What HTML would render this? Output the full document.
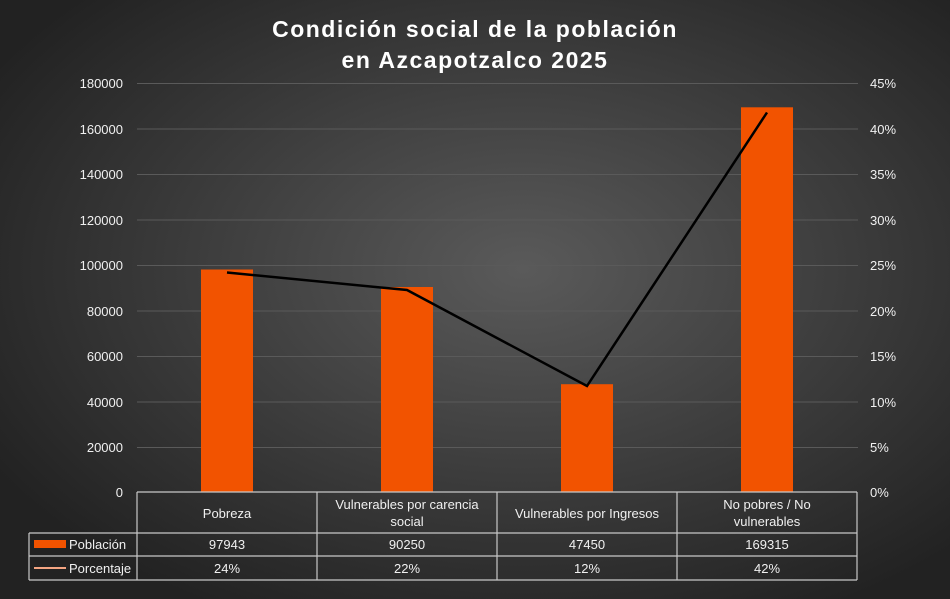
<!DOCTYPE html><html><head><style>
body{margin:0;width:950px;height:599px;overflow:hidden;background:#2a2a2a}
svg{display:block;font-family:"Liberation Sans",sans-serif}
</style></head><body>
<svg width="950" height="599" viewBox="0 0 950 599">
<defs><radialGradient id="bg" cx="55%" cy="45%" r="65%"><stop offset="0" stop-color="#5a5a5a"/><stop offset="1" stop-color="#222"/></radialGradient></defs>
<rect width="950" height="599" fill="url(#bg)"/>
<g fill="#fff" font-weight="bold" font-size="23" text-anchor="middle" letter-spacing="1.5"><text x="475" y="37">Condición social de la población</text><text x="475" y="68">en Azcapotzalco 2025</text></g>
<g stroke="#5a5a5a" stroke-width="1">
<line x1="137" x2="858" y1="83.5" y2="83.5"/><line x1="137" x2="858" y1="129" y2="129"/><line x1="137" x2="858" y1="174.5" y2="174.5"/><line x1="137" x2="858" y1="220" y2="220"/><line x1="137" x2="858" y1="265.5" y2="265.5"/><line x1="137" x2="858" y1="311" y2="311"/><line x1="137" x2="858" y1="356.5" y2="356.5"/><line x1="137" x2="858" y1="402" y2="402"/><line x1="137" x2="858" y1="447.5" y2="447.5"/></g>
<g fill="#f0f0f0" font-size="13" text-anchor="end">
<text x="123" y="88">180000</text><text x="123" y="134">160000</text><text x="123" y="179">140000</text><text x="123" y="225">120000</text><text x="123" y="270">100000</text><text x="123" y="316">80000</text><text x="123" y="361">60000</text><text x="123" y="407">40000</text><text x="123" y="452">20000</text><text x="123" y="497">0</text></g>
<g fill="#f0f0f0" font-size="13" text-anchor="start">
<text x="870" y="88">45%</text><text x="870" y="134">40%</text><text x="870" y="179">35%</text><text x="870" y="225">30%</text><text x="870" y="270">25%</text><text x="870" y="316">20%</text><text x="870" y="361">15%</text><text x="870" y="407">10%</text><text x="870" y="452">5%</text><text x="870" y="497">0%</text></g>
<g fill="#f25300">
<rect x="201" y="269.5" width="52" height="222.5"/><rect x="381" y="287" width="52" height="205"/><rect x="561" y="384.2" width="52" height="107.8"/><rect x="741" y="107.3" width="52" height="384.7"/></g>
<polyline points="227,272.5 407,290 587,386 767,112.5" fill="none" stroke="#000" stroke-width="2.5"/>
<g stroke="#c8c8c8" stroke-width="1.2" fill="none">
<line x1="137" y1="492" x2="857" y2="492"/><line x1="29" y1="533" x2="857" y2="533"/><line x1="29" y1="556" x2="857" y2="556"/><line x1="29" y1="580" x2="857" y2="580"/>
<line x1="29" y1="533" x2="29" y2="580"/><line x1="137" y1="492" x2="137" y2="580"/><line x1="317" y1="492" x2="317" y2="580"/><line x1="497" y1="492" x2="497" y2="580"/><line x1="677" y1="492" x2="677" y2="580"/><line x1="857" y1="492" x2="857" y2="580"/></g>
<g fill="#f0f0f0" font-size="13" text-anchor="middle">
<text x="227" y="518">Pobreza</text><text x="407" y="509">Vulnerables por carencia</text><text x="407" y="526">social</text><text x="587" y="518">Vulnerables por Ingresos</text><text x="767" y="509">No pobres / No</text><text x="767" y="526">vulnerables</text>
<text x="227" y="549">97943</text><text x="407" y="549">90250</text><text x="587" y="549">47450</text><text x="767" y="549">169315</text>
<text x="227" y="573">24%</text><text x="407" y="573">22%</text><text x="587" y="573">12%</text><text x="767" y="573">42%</text>
<text x="69" y="549" text-anchor="start">Población</text><text x="69" y="573" text-anchor="start">Porcentaje</text></g>
<rect x="34" y="540" width="32" height="8" fill="#f25300"/>
<line x1="34" y1="568" x2="66" y2="568" stroke="#f4a582" stroke-width="2"/>
</svg></body></html>
